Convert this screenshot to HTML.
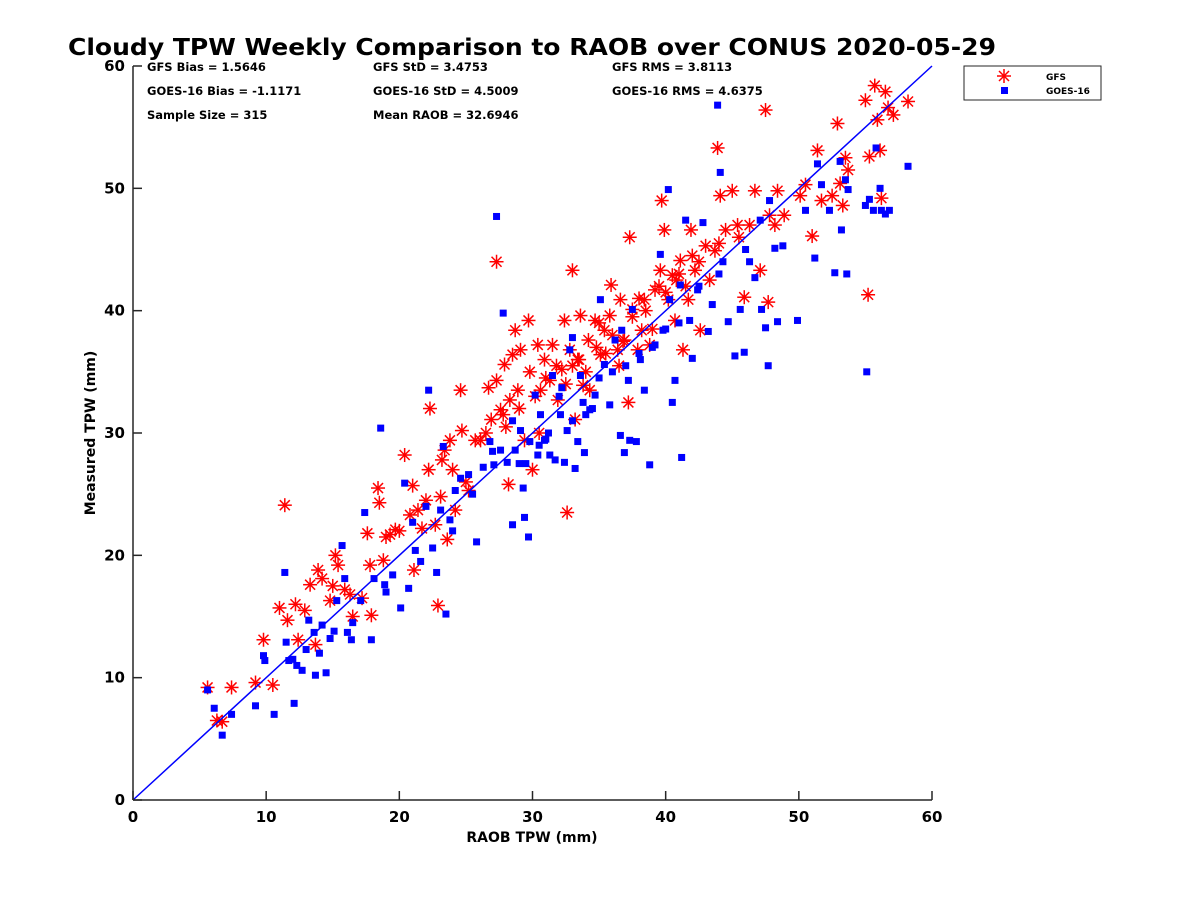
<!DOCTYPE html>
<html><head><meta charset="utf-8"><style>
html,body{margin:0;padding:0;background:#fff;}
svg text{font-family:"DejaVu Sans","Liberation Sans",sans-serif;font-weight:bold;fill:#000;}
</style></head><body>
<svg id="chart" width="1200" height="900" viewBox="0 0 1200 900" xmlns="http://www.w3.org/2000/svg">
<rect width="1200" height="900" fill="#fff"/>
<text x="68" y="55" font-size="23" textLength="928" lengthAdjust="spacingAndGlyphs">Cloudy TPW Weekly Comparison to RAOB over CONUS 2020-05-29</text>
<g font-size="11.5">
<text x="147" y="71">GFS Bias = 1.5646</text>
<text x="373" y="71">GFS StD = 3.4753</text>
<text x="612" y="71">GFS RMS = 3.8113</text>
<text x="147" y="95">GOES-16 Bias = -1.1171</text>
<text x="373" y="95">GOES-16 StD = 4.5009</text>
<text x="612" y="95">GOES-16 RMS = 4.6375</text>
<text x="147" y="119">Sample Size = 315</text>
<text x="373" y="119">Mean RAOB = 32.6946</text>
</g>
<g id="gfs"></g>
<g id="goes"></g>
<g id="axes"></g>
<g>
<rect x="964" y="66" width="137" height="34" fill="#fff" stroke="#262626" stroke-width="1"/>
<g stroke="#f00" stroke-width="1.5">
<line x1="1004" y1="69" x2="1004" y2="83"/><line x1="997" y1="76" x2="1011" y2="76"/>
<line x1="999" y1="71" x2="1009" y2="81"/><line x1="999" y1="81" x2="1009" y2="71"/>
</g>
<text x="1046" y="80" font-size="9">GFS</text>
<rect x="1001" y="87" width="7" height="7" fill="#00f"/>
<text x="1046" y="94" font-size="9">GOES-16</text>
</g>
</svg>
<script>
const gfsX=[5.6,6.3,6.7,7.4,9.2,9.8,10.5,11.4,11.0,11.6,12.2,12.4,12.9,13.3,13.9,14.2,13.7,14.8,15.2,15.4,15.9,16.3,17.2,17.6,17.8,17.9,18.4,18.5,18.8,19.3,19.7,20.4,20.8,21.0,21.1,21.4,21.7,22.2,22.3,22.7,22.9,23.1,23.2,23.4,23.6,23.8,24.2,24.6,24.7,25.2,25.7,26.1,26.7,26.9,27.3,27.3,27.6,27.9,28.2,28.3,28.5,28.7,28.9,29.1,29.4,29.7,29.8,30.0,30.4,30.6,30.9,31.3,31.5,31.9,32.2,32.4,32.6,32.8,33.0,33.2,33.4,33.6,33.8,34.2,34.3,34.7,35.1,35.4,35.8,35.9,36.4,36.6,36.9,37.2,37.3,37.5,37.9,38.2,38.4,38.8,39.2,39.6,39.7,39.9,40.2,40.5,40.7,41.1,41.3,41.7,41.9,42.2,42.6,43.0,43.3,43.7,43.9,44.1,44.5,45.0,45.4,45.9,46.3,46.7,47.1,47.5,47.7,47.8,48.2,48.4,48.9,50.1,50.5,51.0,51.4,51.7,52.5,52.9,53.1,53.3,53.5,53.7,55.0,55.2,55.3,55.7,55.9,56.1,56.2,56.5,56.7,57.1,58.2,
30.2,31.0,31.8,32.5,33.5,34.0,34.8,35.5,36.0,36.8,37.5,38.5,39.0,40.0,40.8,41.5,42.0,26.5,27.8,29.0,30.5,33.0,35.0,36.5,38.0,39.5,41.0,42.5,44.0,45.5,15.0,16.5,19.0,20.0,22.0,24.0,25.0,28.0];
const gfsY=[9.2,6.5,6.4,9.2,9.6,13.1,9.4,24.1,15.7,14.7,16.0,13.1,15.5,17.6,18.8,18.1,12.7,16.3,20.0,19.2,17.2,16.8,16.5,21.8,19.2,15.1,25.5,24.3,19.6,21.7,22.1,28.2,23.3,25.7,18.8,23.7,22.2,27.0,32.0,22.5,15.9,24.8,27.8,28.6,21.3,29.4,23.7,33.5,30.2,25.3,29.4,29.4,33.7,31.1,44.0,34.3,31.9,35.6,25.8,32.7,36.4,38.4,33.5,36.8,29.4,39.2,35.0,27.0,37.2,33.5,36.0,34.3,37.2,32.7,35.2,39.2,23.5,36.8,43.3,31.1,36.0,39.6,33.9,37.6,33.5,39.2,36.4,38.4,39.6,42.1,36.8,40.9,37.6,32.5,46.0,40.1,36.8,38.4,40.9,37.2,41.7,43.3,49.0,46.6,40.9,42.9,39.2,44.1,36.8,40.9,46.6,43.3,38.4,45.3,42.5,44.9,53.3,49.4,46.6,49.8,47.0,41.1,47.0,49.8,43.3,56.4,40.7,47.8,47.0,49.8,47.8,49.4,50.3,46.1,53.1,49.0,49.4,55.3,50.4,48.6,52.5,51.5,57.2,41.3,52.6,58.4,55.6,53.1,49.2,57.9,56.6,56.0,57.1,
33.0,34.5,35.5,34.0,36.0,35.0,37.0,36.5,38.0,37.5,39.5,40.0,38.5,41.5,42.5,42.0,44.5,30.0,31.5,32.0,30.0,35.5,39.0,35.5,41.0,42.0,43.0,44.0,45.5,46.0,17.5,15.0,21.5,22.0,24.5,27.0,26.0,30.5];
const goesX=[5.6,6.1,6.7,7.4,9.2,9.8,9.9,10.6,11.4,11.5,11.7,12.1,12.3,12.7,13.0,13.2,13.6,13.7,14.2,14.5,14.8,15.1,15.3,15.7,15.9,16.1,16.4,17.1,17.4,17.9,18.1,18.6,18.9,19.5,20.1,20.4,20.7,21.0,21.2,21.6,22.2,22.5,22.8,23.1,23.3,23.5,23.8,24.2,24.6,25.2,25.8,26.3,26.8,27.1,27.3,27.6,27.8,28.1,28.5,28.7,29.1,29.3,29.4,29.7,29.8,30.2,30.4,30.6,30.9,31.3,31.5,31.7,32.1,32.2,32.4,32.6,32.8,33.0,33.2,33.4,33.6,33.9,34.3,34.7,35.1,35.4,35.8,36.2,36.6,36.7,36.9,37.2,37.3,37.5,37.8,38.1,38.4,38.8,39.2,39.6,39.8,40.2,40.3,40.5,40.7,41.1,41.2,41.5,41.8,42.0,42.4,42.8,43.2,43.5,43.9,44.1,44.3,44.7,45.2,45.6,45.9,46.3,46.7,47.1,47.2,47.5,47.7,47.8,48.2,48.4,48.8,49.9,50.5,51.2,51.4,51.7,52.3,52.7,53.1,53.2,53.5,53.6,53.7,55.0,55.1,55.3,55.6,55.8,56.1,56.2,56.5,56.8,58.2,
28.5,29.5,30.5,31.2,32.0,33.0,33.8,34.5,35.0,36.0,37.0,38.0,39.0,40.0,41.0,42.5,44.0,46.0,22.0,24.0,25.5,27.0,29.0,31.0,34.0,12.0,14.0,16.5,19.0];
const goesY=[9.0,7.5,5.3,7.0,7.7,11.8,11.4,7.0,18.6,12.9,11.4,7.9,11.0,10.6,12.3,14.7,13.7,10.2,14.3,10.4,13.2,13.8,16.3,20.8,18.1,13.7,13.1,16.3,23.5,13.1,18.1,30.4,17.6,18.4,15.7,25.9,17.3,22.7,20.4,19.5,33.5,20.6,18.6,23.7,28.9,15.2,22.9,25.3,26.3,26.6,21.1,27.2,29.3,27.4,47.7,28.6,39.8,27.6,22.5,28.6,30.2,25.5,23.1,21.5,29.3,33.1,28.2,31.5,29.4,28.2,34.7,27.8,31.5,33.7,27.6,30.2,36.8,37.8,27.1,29.3,34.7,28.4,31.9,33.1,40.9,35.6,32.3,37.6,29.8,38.4,28.4,34.3,29.4,40.1,29.3,36.0,33.5,27.4,37.2,44.6,38.4,49.9,40.9,32.5,34.3,42.1,28.0,47.4,39.2,36.1,41.7,47.2,38.3,40.5,56.8,51.3,44.0,39.1,36.3,40.1,36.6,44.0,42.7,47.4,40.1,38.6,35.5,49.0,45.1,39.1,45.3,39.2,48.2,44.3,52.0,50.3,48.2,43.1,52.2,46.6,50.7,43.0,49.9,48.6,35.0,49.1,48.2,53.3,50.0,48.2,47.9,48.2,51.8,
31.0,27.5,29.0,30.0,33.0,31.0,32.5,32.0,34.5,35.0,35.5,36.5,37.0,38.5,39.0,42.0,43.0,45.0,24.0,22.0,25.0,28.5,27.5,29.5,31.5,11.5,12.0,14.5,17.0];
const NS='http://www.w3.org/2000/svg';
const X0=133,X1=932,Y0=800,Y1=66;
function sx(v){return X0+(v/60)*(X1-X0);}
function sy(v){return Y0-(v/60)*(Y0-Y1);}
function mk(tag,attrs,parent){const e=document.createElementNS(NS,tag);for(const k in attrs)e.setAttribute(k,attrs[k]);parent.appendChild(e);return e;}
const gG=document.getElementById('gfs');
for(let i=0;i<gfsX.length;i++){
  const cx=sx(gfsX[i]),cy=sy(gfsY[i]);
  const g=mk('g',{stroke:'#f00','stroke-width':'1.5'},gG);
  
  
  mk('line',{x1:cx,y1:cy-7,x2:cx,y2:cy+7},g);
  mk('line',{x1:cx-7,y1:cy,x2:cx+7,y2:cy},g);
  mk('line',{x1:cx-5,y1:cy-5,x2:cx+5,y2:cy+5},g);
  mk('line',{x1:cx-5,y1:cy+5,x2:cx+5,y2:cy-5},g);
}
const bG=document.getElementById('goes');
for(let i=0;i<goesX.length;i++){
  const r=mk('rect',{x:sx(goesX[i])-3.5,y:sy(goesY[i])-3.5,width:7,height:7,fill:'#00f'},bG);
  
  
}
const ax=document.getElementById('axes');
const ref=mk('line',{x1:sx(0),y1:sy(0),x2:sx(60),y2:sy(60),stroke:'#00f','stroke-width':'1.5'},ax);


mk('line',{x1:X0,y1:Y0,x2:X1,y2:Y0,stroke:'#262626','stroke-width':'1.5'},ax);
mk('line',{x1:X0,y1:Y0,x2:X0,y2:Y1,stroke:'#262626','stroke-width':'1.5'},ax);
const ticks=[0,10,20,30,40,50,60];
for(const t of ticks){
  mk('line',{x1:sx(t),y1:Y0,x2:sx(t),y2:Y0-9,stroke:'#262626','stroke-width':'1.5'},ax);
  const tx=mk('text',{x:sx(t),y:Y0+22,'font-size':'15','text-anchor':'middle',fill:'#262626'},ax);
  tx.textContent=t;
  
  
  mk('line',{x1:X0,y1:sy(t),x2:X0+9,y2:sy(t),stroke:'#262626','stroke-width':'1.5'},ax);
  const ty=mk('text',{x:X0-8,y:sy(t)+5,'font-size':'15','text-anchor':'end',fill:'#262626'},ax);
  ty.textContent=t;
  
  
}
const xt=mk('text',{x:532,y:842,'font-size':'14','text-anchor':'middle',fill:'#262626'},ax);
xt.textContent='RAOB TPW (mm)';


const yt=mk('text',{x:95,y:433,'font-size':'14','text-anchor':'middle',fill:'#262626',transform:'rotate(-90 95 433)'},ax);
yt.textContent='Measured TPW (mm)';


</script>
</body></html>
